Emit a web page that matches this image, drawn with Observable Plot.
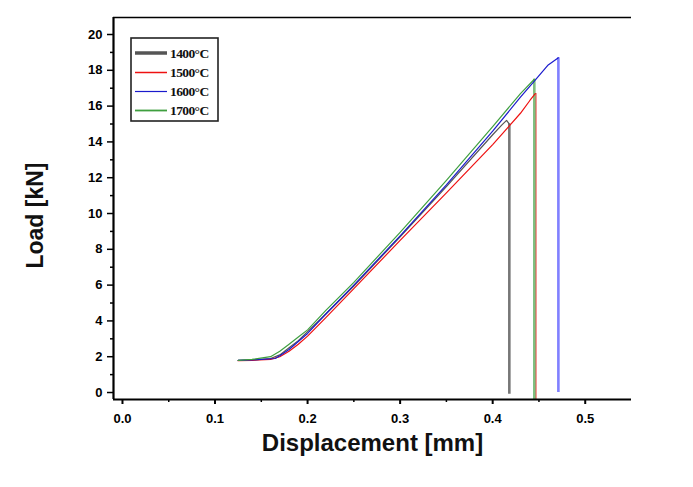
<!DOCTYPE html>
<html>
<head>
<meta charset="utf-8">
<script src="https://cdn.jsdelivr.net/npm/d3@7"></script>
<script src="https://cdn.jsdelivr.net/npm/@observablehq/plot@0.6"></script>
<style>
  html, body { margin: 0; padding: 0; background: #fff; }
  #wrap { position: relative; width: 693px; height: 487px; font-family: Arial, "Liberation Sans", sans-serif; }
</style>
</head>
<body>
<div id="wrap"></div>
<script>
// ---- data ----
const seriesNames = ["1400°C", "1500°C", "1600°C", "1700°C"];
const seriesColors = ["#555555", "#ee1111", "#1a1acc", "#3f9f3f"];
const dropColors = ["#777777", "#ee4444", "#8080ff", "#7fbf7f"];
const dropEnd = [-0.1, -0.39, 0, -0.39];

const x1400 = [0.125, 0.14, 0.16, 0.17, 0.18, 0.19, 0.20, 0.22, 0.25, 0.30, 0.35, 0.40, 0.410, 0.415, 0.418];
const y1400 = [1.80, 1.82, 1.90, 2.10, 2.50, 2.90, 3.40, 4.40, 5.95, 8.70, 11.50, 14.40, 14.95, 15.20, 15.00];

const x1500 = [0.125, 0.14, 0.16, 0.17, 0.18, 0.19, 0.20, 0.22, 0.25, 0.30, 0.35, 0.40, 0.43, 0.440, 0.446];
const y1500 = [1.78, 1.80, 1.85, 2.00, 2.30, 2.70, 3.15, 4.20, 5.80, 8.50, 11.15, 13.85, 15.60, 16.30, 16.70];

const x1600 = [0.125, 0.14, 0.165, 0.17, 0.18, 0.19, 0.20, 0.22, 0.25, 0.30, 0.35, 0.40, 0.43, 0.445, 0.46, 0.471];
const y1600 = [1.80, 1.82, 1.90, 2.05, 2.40, 2.85, 3.30, 4.40, 6.00, 8.75, 11.60, 14.60, 16.50, 17.40, 18.30, 18.70];

const x1700 = [0.125, 0.14, 0.16, 0.17, 0.18, 0.19, 0.20, 0.22, 0.25, 0.30, 0.35, 0.40, 0.43, 0.445];
const y1700 = [1.80, 1.85, 2.00, 2.30, 2.70, 3.10, 3.50, 4.60, 6.15, 8.95, 11.85, 14.85, 16.70, 17.50];

const xTicks = [0.0, 0.1, 0.2, 0.3, 0.4, 0.5];
const xMinor = [0.05, 0.15, 0.25, 0.35, 0.45];
const yTicks = [0, 2, 4, 6, 8, 10, 12, 14, 16, 18, 20];
const yMinor = [1, 3, 5, 7, 9, 11, 13, 15, 17, 19];
const xDomain = [-0.0097, 0.55];
const yDomain = [-0.39, 20.95];

// ---- build table ----
const xs = [x1400, x1500, x1600, x1700];
const ys = [y1400, y1500, y1600, y1700];
const rows = [];
xs.forEach((arr, i) => arr.forEach((x, j) => rows.push({series: seriesNames[i], x, y: ys[i][j]})));
const drops = xs.map((arr, i) => ({
  series: seriesNames[i], x: arr[arr.length - 1], y1: ys[i][ys[i].length - 1], y2: dropEnd[i], c: dropColors[i]
}));

const chart = Plot.plot({
  width: 693, height: 487,
  marginLeft: 113, marginRight: 62, marginTop: 17, marginBottom: 88,
  style: {fontFamily: "Arial, 'Liberation Sans', sans-serif", background: "#fff", overflow: "visible"},
  x: {domain: xDomain},
  y: {domain: yDomain},
  color: {domain: seriesNames, range: seriesColors},
  marks: [
    Plot.ruleX(drops, {x: "x", y1: "y1", y2: "y2", stroke: "c", strokeWidth: 2.6}),
    Plot.line(rows, {x: "x", y: "y", z: "series", stroke: "series", strokeWidth: 1.2}),
    Plot.axisX({ticks: xTicks, tickFormat: d3.format(".1f"), tickSize: 5, tickPadding: 9, fontSize: 13, fontWeight: "bold", stroke: "#000", strokeWidth: 2, label: null, style: {letterSpacing: "1px"}}),
    Plot.axisX({ticks: xMinor, tickSize: 3, text: null, strokeWidth: 1.5, label: null}),
    Plot.axisY({ticks: yTicks, tickFormat: d3.format("d"), tickSize: 6, tickPadding: 5, fontSize: 13, fontWeight: "bold", strokeWidth: 1.5, label: null}),
    Plot.axisY({ticks: yMinor, tickSize: 3, text: null, strokeWidth: 1.5, label: null}),
    Plot.ruleX([xDomain[0]], {stroke: "#000", strokeWidth: 2.2}),
    Plot.ruleY([yDomain[0]], {stroke: "#000", strokeWidth: 2.2}),
    Plot.ruleY([yDomain[1]], {stroke: "#000", strokeWidth: 1.5}),
    Plot.text(["Displacement [mm]"], {frameAnchor: "bottom", dy: 51, fontSize: 24, fontWeight: "bold", fill: "#111", textAnchor: "middle"}),
    Plot.text(["Load [kN]"], {frameAnchor: "left", dx: -78, dy: 7, rotate: -90, fontSize: 23, fontWeight: "bold", fill: "#111", textAnchor: "middle"})
  ]
});

const wrap = document.getElementById("wrap");
chart.style.position = "absolute";
chart.style.left = "0";
chart.style.top = "0";
wrap.appendChild(chart);

// legend overlay (SVG)
const ns = "http://www.w3.org/2000/svg";
const lg = document.createElementNS(ns, "svg");
lg.setAttribute("width", "90");
lg.setAttribute("height", "86");
lg.style.position = "absolute";
lg.style.left = "130px";
lg.style.top = "37px";
const box = document.createElementNS(ns, "rect");
box.setAttribute("x", "1"); box.setAttribute("y", "1");
box.setAttribute("width", "87"); box.setAttribute("height", "83");
box.setAttribute("fill", "#fff"); box.setAttribute("stroke", "#222"); box.setAttribute("stroke-width", "1.6");
lg.appendChild(box);
const rowY = [16, 35.5, 54.5, 73.5];
const widths = [3.5, 1.5, 1.2, 1.8];
seriesNames.forEach((name, i) => {
  const ln = document.createElementNS(ns, "line");
  ln.setAttribute("x1", "5"); ln.setAttribute("x2", "37");
  ln.setAttribute("y1", rowY[i]); ln.setAttribute("y2", rowY[i]);
  ln.setAttribute("stroke", seriesColors[i]);
  ln.setAttribute("stroke-width", widths[i]);
  lg.appendChild(ln);
  const tx = document.createElementNS(ns, "text");
  tx.setAttribute("x", "40"); tx.setAttribute("y", rowY[i] + 4.5);
  tx.setAttribute("font-family", "'Liberation Serif', 'DejaVu Serif', serif");
  tx.setAttribute("font-weight", "bold");
  tx.setAttribute("font-size", "13.5");
  tx.setAttribute("letter-spacing", "-0.6");
  tx.setAttribute("fill", "#111");
  tx.textContent = name;
  lg.appendChild(tx);
});
wrap.appendChild(lg);
</script>
</body>
</html>
